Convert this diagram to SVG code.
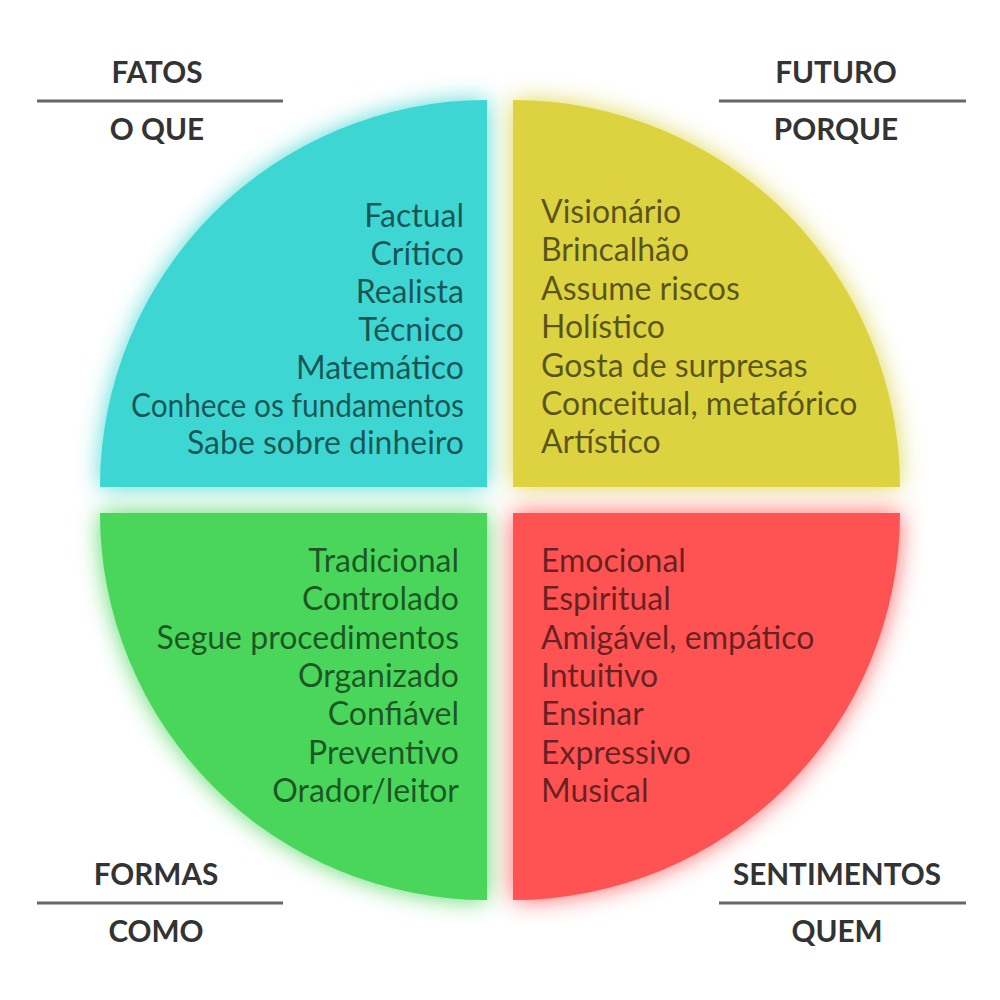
<svg xmlns="http://www.w3.org/2000/svg" width="1000" height="1000" viewBox="0 0 1000 1000">
  <defs>
    <filter id="glow" x="-20%" y="-20%" width="140%" height="140%">
      <feGaussianBlur in="SourceGraphic" stdDeviation="12" result="b"/>
      <feComponentTransfer in="b" result="g">
        <feFuncA type="linear" slope="0.9"/>
      </feComponentTransfer>
      <feMerge>
        <feMergeNode in="g"/>
        <feMergeNode in="SourceGraphic"/>
      </feMerge>
    </filter>
    <style>
      .item { font-family: Lato, "Liberation Sans", sans-serif; font-size: 32px; fill: #000; fill-opacity: 0.6; }
      .head { font-family: Lato, "Liberation Sans", sans-serif; font-size: 29.7px; font-weight: bold; fill: #333; text-anchor: middle; }
      .rule { stroke: #666; stroke-width: 3; }
      .r { text-anchor: end; }
    </style>
  </defs>
  <rect width="1000" height="1000" fill="#fff"/>

  <g id="quadrant-fatos">
    <path d="M487,487 H100 A387,387 0 0 1 487,100 Z" fill="#3CD6D2" filter="url(#glow)"/>
    <text class="item r" x="464" y="227">Factual</text>
    <text class="item r" x="464" y="265">Crítico</text>
    <text class="item r" x="464" y="303">Realista</text>
    <text class="item r" x="464" y="341">Técnico</text>
    <text class="item r" x="464" y="379">Matemático</text>
    <text class="item r" x="464" y="417" textLength="333" lengthAdjust="spacingAndGlyphs">Conhece os fundamentos</text>
    <text class="item r" x="464" y="454">Sabe sobre dinheiro</text>
  </g>

  <g id="quadrant-futuro">
    <path d="M513,487 V100 A387,387 0 0 1 900,487 Z" fill="#DDD33F" filter="url(#glow)"/>
    <text class="item" x="541" y="223">Visionário</text>
    <text class="item" x="541" y="261">Brincalhão</text>
    <text class="item" x="541" y="300">Assume riscos</text>
    <text class="item" x="541" y="338">Holístico</text>
    <text class="item" x="541" y="377">Gosta de surpresas</text>
    <text class="item" x="541" y="415">Conceitual, metafórico</text>
    <text class="item" x="541" y="453">Artístico</text>
  </g>

  <g id="quadrant-formas">
    <path d="M487,513 V900 A387,387 0 0 1 100,513 Z" fill="#48D65A" filter="url(#glow)"/>
    <text class="item r" x="459" y="572">Tradicional</text>
    <text class="item r" x="459" y="610">Controlado</text>
    <text class="item r" x="459" y="649">Segue procedimentos</text>
    <text class="item r" x="459" y="687">Organizado</text>
    <text class="item r" x="459" y="725">Confiável</text>
    <text class="item r" x="459" y="764">Preventivo</text>
    <text class="item r" x="459" y="802">Orador/leitor</text>
  </g>

  <g id="quadrant-sentimentos">
    <path d="M513,513 H900 A387,387 0 0 1 513,900 Z" fill="#FF5252" filter="url(#glow)"/>
    <text class="item" x="541" y="572">Emocional</text>
    <text class="item" x="541" y="610">Espiritual</text>
    <text class="item" x="541" y="649">Amigável, empático</text>
    <text class="item" x="541" y="687">Intuitivo</text>
    <text class="item" x="541" y="725">Ensinar</text>
    <text class="item" x="541" y="764">Expressivo</text>
    <text class="item" x="541" y="802">Musical</text>
  </g>

  <g id="label-fatos">
    <text class="head" x="157" y="83">FATOS</text>
    <line class="rule" x1="37" y1="101" x2="283" y2="101"/>
    <text class="head" x="157" y="140">O QUE</text>
  </g>
  <g id="label-futuro">
    <text class="head" x="836" y="83">FUTURO</text>
    <line class="rule" x1="719" y1="101" x2="966" y2="101"/>
    <text class="head" x="836" y="140">PORQUE</text>
  </g>
  <g id="label-formas">
    <text class="head" x="156" y="885">FORMAS</text>
    <line class="rule" x1="37" y1="903" x2="283" y2="903"/>
    <text class="head" x="156" y="942">COMO</text>
  </g>
  <g id="label-sentimentos">
    <text class="head" x="837" y="885">SENTIMENTOS</text>
    <line class="rule" x1="719" y1="903" x2="966" y2="903"/>
    <text class="head" x="837" y="942">QUEM</text>
  </g>
  <g id="connectors"/>
</svg>
